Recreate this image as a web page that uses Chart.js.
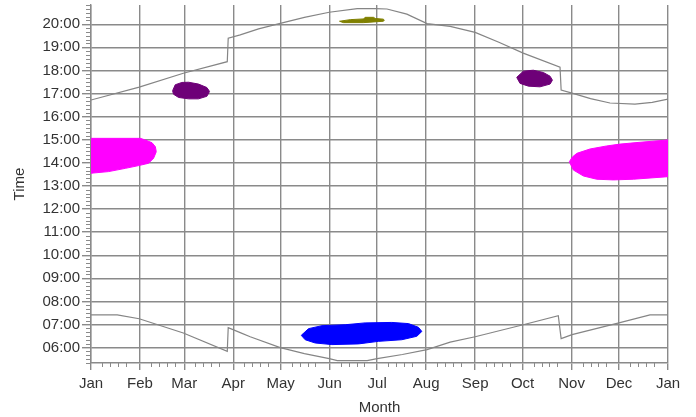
<!DOCTYPE html>
<html lang="en">
<head>
<meta charset="UTF-8">
<title>Sun times</title>
<script src="https://cdn.jsdelivr.net/npm/chart.js@4"></script>
<style>
  body { margin: 0; background: #fff; }
  canvas { display: block; }
</style>
</head>
<body>
<canvas id="sunChart" width="696" height="417"></canvas>
<script>
// month starts (day of year) and their labels
const monthDays = [0, 31, 59, 90, 120, 151, 181, 212, 243, 273, 304, 334, 365];
const monthLabels = ['Jan', 'Feb', 'Mar', 'Apr', 'May', 'Jun', 'Jul', 'Aug', 'Sep', 'Oct', 'Nov', 'Dec', 'Jan'];
const minorDayOffsets = [7, 12, 17, 22];
const hourTicks = [6, 7, 8, 9, 10, 11, 12, 13, 14, 15, 16, 17, 18, 19, 20];

// sunset / sunrise, [day, hours]
const sunset = [
  [0, 16.72], [30.5, 17.28], [58.4, 17.88], [86.2, 18.38], [86.8, 19.40], [94.4, 19.54],
  [106, 19.80], [119.7, 20.04], [135, 20.30], [150.7, 20.52], [168.4, 20.68], [179.8, 20.68],
  [187.2, 20.66], [199.8, 20.44], [212.6, 20.03], [227.2, 19.91], [243, 19.65], [258, 19.22],
  [273.4, 18.75], [296.7, 18.14], [297.4, 17.15], [304.3, 17.02], [316, 16.78], [328.3, 16.59],
  [344.1, 16.54], [355, 16.62], [365, 16.76]
];
const sunrise = [
  [0, 7.42], [16.6, 7.42], [30.5, 7.25], [58.4, 6.63], [86.2, 5.84], [86.8, 6.86], [94.4, 6.65],
  [100.7, 6.47], [119.7, 6.00], [135, 5.74], [150.7, 5.52], [155.8, 5.44], [174.7, 5.44],
  [181, 5.52], [197, 5.70], [212.6, 5.91], [227.2, 6.24], [243, 6.47], [273.4, 6.99],
  [295.6, 7.38], [297.4, 6.39], [304.3, 6.56], [334.6, 7.08], [353.6, 7.42], [365, 7.42]
];

// glare periods: upper and lower edge of each patch, [day, hours]
const janPatchTop = [[0, 15.06], [31.2, 15.06], [34.3, 14.99], [38.6, 14.87], [40.7, 14.70], [41.3, 14.48]];
const janPatchBottom = [[0, 13.55], [11.1, 13.62], [21.7, 13.76], [30.1, 13.88], [36.4, 13.98], [39.6, 14.20], [41.3, 14.48]];
const decPatchTop = [[302.6, 14.05], [304.5, 14.25], [307.3, 14.41], [315.7, 14.60], [326.2, 14.73], [334.6, 14.81], [347.3, 14.89], [365, 14.99]];
const decPatchBottom = [[302.6, 14.05], [305.1, 13.69], [311.5, 13.43], [319.9, 13.29], [330.4, 13.26], [343.1, 13.29], [365, 13.40]];
const marPatchTop = [[51.6, 17.12], [53.3, 17.38], [57.5, 17.48], [61.7, 17.49], [68, 17.41], [73.3, 17.26], [75, 17.09]];
const marPatchBottom = [[51.6, 17.12], [52.2, 16.97], [55.4, 16.83], [61.7, 16.77], [68, 16.77], [73.3, 16.88], [75, 17.09]];
const octPatchTop = [[269.3, 17.70], [273.5, 17.97], [279.8, 18.01], [286.2, 17.91], [290.4, 17.75], [291.9, 17.58]];
const octPatchBottom = [[269.3, 17.70], [271.4, 17.44], [276.7, 17.32], [284, 17.29], [290.4, 17.41], [291.9, 17.58]];
const junEveTop = [[157.2, 20.13], [164, 20.20], [172.4, 20.23], [173.4, 20.30], [178.7, 20.30], [179.8, 20.25], [185, 20.22], [185.5, 20.17]];
const junEveBottom = [[157.2, 20.13], [159.7, 20.07], [172.4, 20.07], [185, 20.13], [185.5, 20.17]];
const junMornTop = [[133, 6.53], [137.6, 6.82], [146.1, 6.95], [160.8, 6.99], [173.4, 7.07], [190.3, 7.09], [200.8, 7.04], [207.1, 6.88], [209.3, 6.70]];
const junMornBottom = [[133, 6.53], [135.5, 6.34], [141.8, 6.20], [152.4, 6.13], [169.2, 6.16], [181.8, 6.27], [196.6, 6.34], [206.1, 6.49], [209.3, 6.70]];

const gridColor = '#8a8a8a';
const textColor = '#333';
const font = { family: '"Liberation Sans", Arial, sans-serif', size: 15 };

const pts = arr => arr.map(([x, y]) => ({ x: x, y: y }));

function sunLine(arr) {
  return { data: pts(arr), borderColor: '#858585', borderWidth: 1.2, pointRadius: 0, fill: false };
}

// a patch is its top edge plus its bottom edge filled back to the top
function patch(top, bottom, color) {
  return [
    { data: pts(top), borderColor: color, borderWidth: 1, pointRadius: 0, fill: false },
    { data: pts(bottom), borderColor: color, borderWidth: 1, pointRadius: 0, backgroundColor: color, fill: '-1' }
  ];
}

const hhmm = v => String(v).padStart(2, '0') + ':00';

// short ticks: every 10 minutes on the time axis, a few per month on the month axis
const minorTicks = {
  id: 'minorTicks',
  afterDraw(chart) {
    const { ctx, scales: { x, y } } = chart;
    ctx.save();
    ctx.strokeStyle = gridColor;
    ctx.lineWidth = 1;
    ctx.beginPath();
    for (let k = Math.ceil(y.min * 6); k <= Math.floor(y.max * 6 + 1e-6); k++) {
      if (k % 6 === 0) continue;
      const py = Math.round(y.getPixelForValue(k / 6)) + 0.5;
      ctx.moveTo(x.left - 5, py);
      ctx.lineTo(x.left, py);
    }
    for (let i = 0; i < monthDays.length - 1; i++) {
      minorDayOffsets.forEach(off => {
        const px = Math.round(x.getPixelForValue(monthDays[i] + off)) + 0.5;
        ctx.moveTo(px, y.bottom);
        ctx.lineTo(px, y.bottom + 4);
      });
    }
    ctx.stroke();
    ctx.restore();
  }
};

new Chart(document.getElementById('sunChart'), {
  type: 'line',
  data: {
    datasets: [
      sunLine(sunset),
      sunLine(sunrise),
      ...patch(janPatchTop, janPatchBottom, '#ff00ff'),
      ...patch(decPatchTop, decPatchBottom, '#ff00ff'),
      ...patch(marPatchTop, marPatchBottom, '#6e0078'),
      ...patch(octPatchTop, octPatchBottom, '#6e0078'),
      ...patch(junEveTop, junEveBottom, '#808000'),
      ...patch(junMornTop, junMornBottom, '#0000ff')
    ]
  },
  options: {
    responsive: false,
    animation: false,
    devicePixelRatio: 1,
    layout: { padding: { top: 5, right: 28, left: 0, bottom: 0 } },
    plugins: { legend: { display: false }, tooltip: { enabled: false } },
    scales: {
      x: {
        type: 'linear',
        min: 0,
        max: 365,
        z: 1,
        afterFit(scale) {
          scale.height = 54;
          scale.paddingLeft = 0;
          scale.paddingRight = 0;
        },
        afterBuildTicks(scale) { scale.ticks = monthDays.map(v => ({ value: v })); },
        grid: { color: gridColor, lineWidth: 1.4, tickLength: 7, tickColor: gridColor },
        border: { color: gridColor, width: 1.4 },
        ticks: {
          autoSkip: false,
          maxRotation: 0,
          padding: 5,
          color: textColor,
          font: font,
          callback: (v, i) => monthLabels[i]
        },
        title: { display: true, text: 'Month', color: textColor, font: font, padding: { top: 5, bottom: 0 } }
      },
      y: {
        type: 'linear',
        min: 5 + 20 / 60,
        max: 20 + 50 / 60,
        z: 1,
        afterFit(scale) {
          scale.width = 91;
          scale.paddingTop = 0;
          scale.paddingBottom = 0;
        },
        afterBuildTicks(scale) { scale.ticks = hourTicks.map(v => ({ value: v })); },
        grid: { color: gridColor, lineWidth: 1.4, tickLength: 9, tickColor: gridColor },
        border: { color: gridColor, width: 1.4 },
        ticks: { padding: 2, color: textColor, font: font, callback: v => hhmm(v) },
        title: { display: true, text: 'Time', color: textColor, font: font, padding: { top: 11, bottom: 0 } }
      }
    }
  },
  plugins: [minorTicks]
});
</script>
</body>
</html>
